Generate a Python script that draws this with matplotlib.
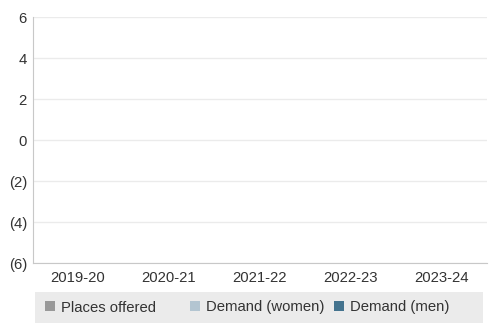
import numpy as np
import matplotlib.pyplot as plt
from matplotlib.patches import Rectangle
from matplotlib.ticker import FuncFormatter

plt.rcParams['font.family'] = ['Liberation Sans', 'DejaVu Sans']

years = ['2019-20', '2020-21', '2021-22', '2022-23', '2023-24']
places_offered = [0, 0, 0, 0, 0]
demand_women = [0, 0, 0, 0, 0]
demand_men = [0, 0, 0, 0, 0]

colors = ['#999999', '#b3c5d1', '#44738e']
text_color = '#333333'
fs = 10.7

W, H = 494, 334
fig = plt.figure(figsize=(W / 100, H / 100), dpi=100)
ax = fig.add_axes([32.5 / W, (H - 263.3) / H, (486.5 - 32.5) / W, (263.3 - 17.3) / H])

x = np.arange(len(years))
bw = 0.25
bars = []
for i, (vals, c) in enumerate(zip([places_offered, demand_women, demand_men], colors)):
    bars.append(ax.bar(x + (i - 1) * bw, vals, width=bw, color=c, linewidth=0))

ax.set_xlim(-0.5, len(years) - 0.5)
ax.set_ylim(-6, 6)
ax.set_yticks(np.arange(-6, 7, 2))
ax.yaxis.set_major_formatter(FuncFormatter(lambda v, p: f'({abs(v):.0f})' if v < 0 else f'{v:.0f}'))
ax.set_xticks(x)
ax.set_xticklabels(years)

ax.grid(axis='y', color='#ebebeb', linewidth=1)
ax.set_axisbelow(True)
for s in ['top', 'right']:
    ax.spines[s].set_visible(False)
ax.spines['left'].set_color('#c8c8c8')
ax.spines['bottom'].set_color('#c8c8c8')
ax.tick_params(axis='both', length=0, labelsize=fs, colors=text_color)
ax.tick_params(axis='y', pad=4)
ax.tick_params(axis='x', pad=5.5)

# legend strip under the plot
fig.patches.append(Rectangle((35 / W, (H - 323.3) / H), (482.7 - 35) / W, 31.6 / H,
                             transform=fig.transFigure, facecolor='#ebebeb', edgecolor='none'))
labels = ['Places offered', 'Demand (women)', 'Demand (men)']
starts = [45, 190, 334]
for b, lab, x0 in zip(bars, labels, starts):
    leg = fig.legend([b], [lab], loc='center left', bbox_to_anchor=(x0 / W, (H - 307.5) / H),
                     frameon=False, borderpad=0, borderaxespad=0, handlelength=0.65,
                     handleheight=0.65, handletextpad=0.4, fontsize=fs)
    for t in leg.get_texts():
        t.set_color(text_color)
    for h in leg.legend_handles:
        h.set_facecolor(b.patches[0].get_facecolor())

fig.savefig('out.png', dpi=100)
